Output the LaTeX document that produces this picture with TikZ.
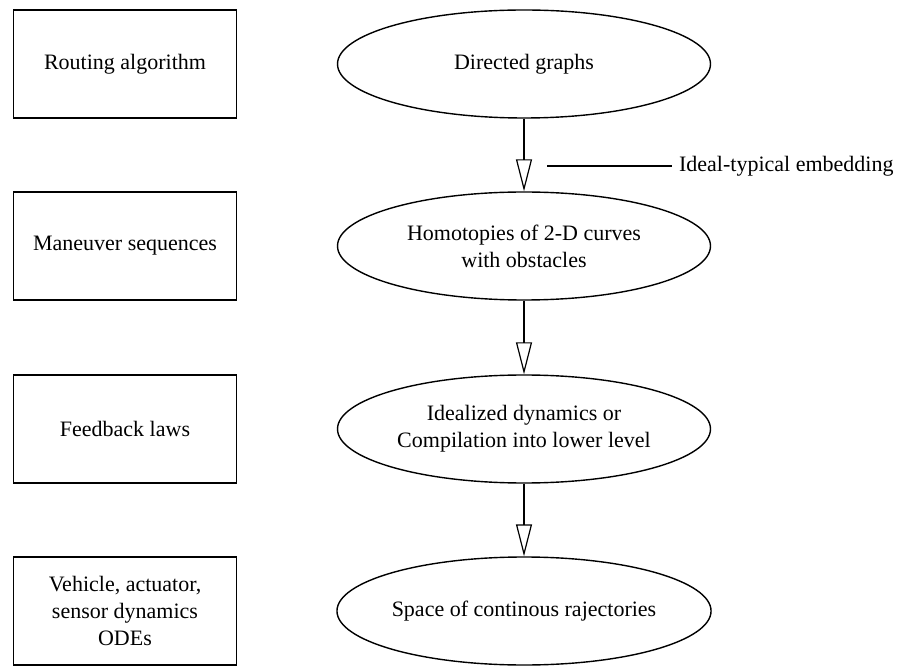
\documentclass[tikz,border=0pt]{standalone}
\usepackage{fontspec}
\setmainfont{Liberation Serif}
\usetikzlibrary{arrows.meta,shapes.geometric}
\begin{document}
\begin{tikzpicture}[x=.5pt,y=-.5pt,font=\fontsize{11}{13.5}\selectfont,
	level/.style={draw,line width=.7pt,minimum width=111.5pt,minimum height=54pt,align=center},
	space/.style={ellipse,draw,line width=.7pt,minimum width=186.5pt,minimum height=54pt,inner sep=0pt,align=center},
	embed/.style={line width=.6pt,-{Triangle[open,length=16pt,width=8pt]}}]
		\useasboundingbox (0,0) rectangle (903,667);
		\path
		(125,64) node[level] (R) {Routing algorithm}
		(125,246) node[level] (M) {Maneuver sequences}
		(125,429) node[level] (F) {Feedback laws}
		(125,611) node[level] (V) {Vehicle, actuator,\\sensor dynamics\\ODEs};
		\path
		(524,64) node[space] (G) {Directed graphs}
		(524,246) node[space] (H) {Homotopies of 2-D curves\\with obstacles}
		(524,429) node[space] (I) {Idealized dynamics or\\Compilation into lower level}
		(524,611) node[space] (S) {Space of continous rajectories};
		\foreach \a/\b in {G/H,H/I,I/S} \draw[embed] (\a)--(\b);
		\path (547,166) coordinate (E);
		\node[anchor=west] (T) at (672,166) {Ideal-typical embedding};
		\draw[line width=.6pt] (E)--(T);
\end{tikzpicture}
\end{document}
